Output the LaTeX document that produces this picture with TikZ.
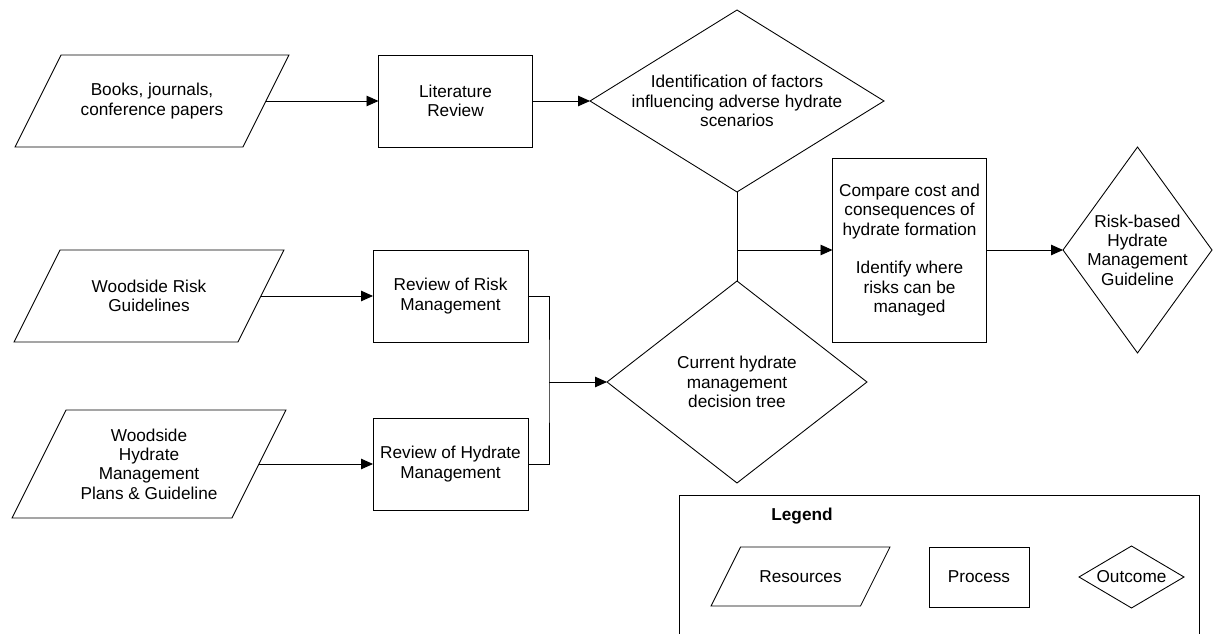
\documentclass[tikz,border=0pt]{standalone}
\usepackage{fontspec}
\setmainfont{Liberation Sans}
\usepackage{tikz}
\usetikzlibrary{arrows.meta}
\usetikzlibrary{shapes.geometric}

\tikzset{
  resource/.style n args={3}{rectangle, minimum width=#1, minimum height=#2,
    align=center, inner sep=2pt, outer sep=0pt,
    append after command={\pgfextra{\draw ([xshift=#3]\tikzlastnode.north west)
      -- ([xshift=#3]\tikzlastnode.north east) -- ([xshift=-#3]\tikzlastnode.south east)
      -- ([xshift=-#3]\tikzlastnode.south west) -- cycle;}}},
  process/.style={rectangle, draw, minimum width=3.08cm, minimum height=1.84cm,
    align=center, inner sep=2pt, outer sep=0pt},
  outcome/.style={diamond, draw, align=center, inner sep=-3pt, outer sep=0pt},
  flow/.style={-{Triangle[length=0.24cm,width=0.21cm]}}
}

\begin{document}
\begin{tikzpicture}[x=0.02cm, y=-0.02cm, line width=0.5pt,
  every node/.style={font=\fontsize{9.8pt}{11pt}\selectfont}]
\useasboundingbox (0,0) rectangle (1213,634);
%%% Draws literature branch
% draws shapes
\node[resource={4.56cm}{1.84cm}{0.46cm}] (books) at (152,101) {Books, journals,\\conference papers};
\node[process] (litrev) at (455.5,101) {Literature\\Review};
\node[outcome, minimum width=5.88cm, minimum height=3.64cm, aspect=1.615] (factors) at (737,101)
  {Identification of factors\\influencing adverse hydrate\\scenarios};
% draws arrows
\draw[flow] (books.east) -- (litrev.west);
\draw[flow] (litrev.east) -- (factors.west);
%%% Draws Woodside branch
% draws shapes
\node[resource={4.48cm}{1.84cm}{0.46cm}] (riskguide) at (149,296) {Woodside Risk\\Guidelines};
\node[process, minimum width=3.1cm] (riskrev) at (450.5,296) {Review of Risk\\Management};
\node[resource={4.4cm}{2.16cm}{0.54cm}] (hydguide) at (149,464)
  {Woodside\\Hydrate\\Management\\Plans \& Guideline};
\node[process, minimum width=3.1cm] (hydrev) at (450.5,464) {Review of Hydrate\\Management};
\node[outcome, minimum width=5.2cm, minimum height=4.04cm, aspect=1.287] (tree) at (737,382)
  {Current hydrate\\management\\decision tree};
% draws arrows
\coordinate (merge) at (549,382);
\draw[flow] (riskguide.east) -- (riskrev.west);
\draw[flow] (hydguide.east) -- (hydrev.west);
\draw (riskrev.east) -| (merge) |- (hydrev.east);
\draw[flow] (merge) -- (tree.west);
%%% Draws comparison and guideline
\node[process, minimum height=3.68cm] (compare) at (909.5,250)
  {Compare cost and\\consequences of\\hydrate formation\\[11pt]Identify where\\risks can be\\managed};
\node[outcome, minimum width=2.98cm, minimum height=4.12cm, aspect=0.728] (guide) at (1137.5,250)
  {Risk-based\\Hydrate\\Management\\Guideline};
\coordinate (split) at (737,250);
\draw (factors.south) -- (tree.north);
\draw[flow] (split) -- (compare.west);
\draw[flow] (compare.east) -- (guide.west);
%%% Draws legend
\draw (679,640) -- (679,495) -- (1199,495) -- (1199,640);
\node[font=\fontsize{9.8pt}{11pt}\selectfont\bfseries] (legend) at (802,516) {Legend};
\node[resource={2.99cm}{1.18cm}{0.295cm}] (keyres) at (800.5,576.5) {Resources};
\node[process, minimum width=2cm, minimum height=1.2cm] (keyproc) at (979,577) {Process};
\node[outcome, minimum width=2.1cm, minimum height=1.24cm, aspect=1.69] (keyout) at (1131.5,577) {Outcome};
\end{tikzpicture}
\end{document}
